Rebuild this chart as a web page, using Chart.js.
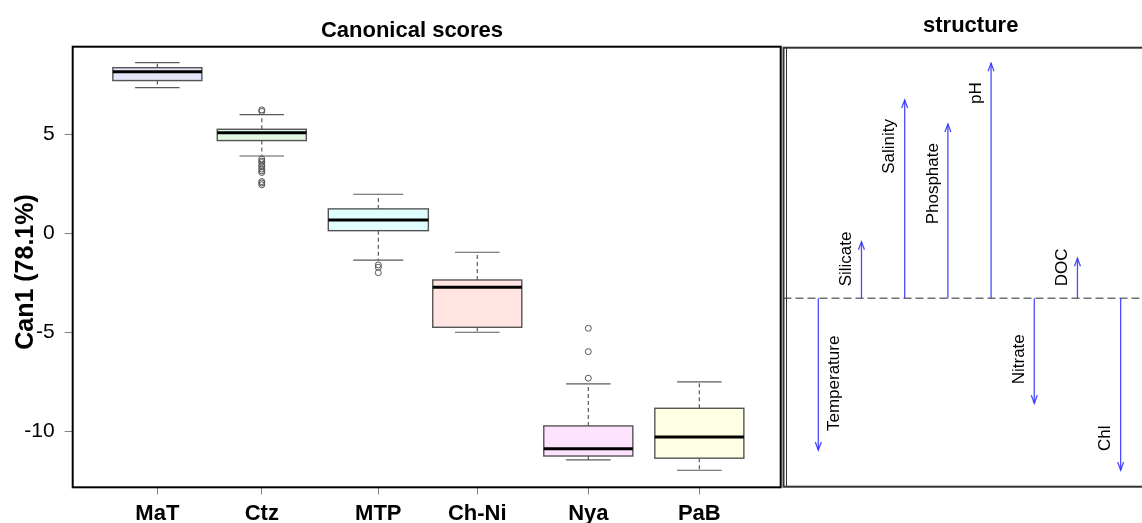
<!DOCTYPE html>
<html>
<head>
<meta charset="utf-8">
<title>Canonical scores and structure</title>
<script src="https://cdn.jsdelivr.net/npm/chart.js@4/dist/chart.umd.min.js"></script>
<style>
  html, body { margin: 0; padding: 0; background: #fff; overflow: hidden; width: 1142px; height: 523px; }
  #wrap { position: relative; width: 1142px; height: 523px; overflow: hidden; }
  #scores { position: absolute; left: 0; top: 0; }
  #structure { position: absolute; left: 782px; top: 0; }
</style>
</head>
<body>
<div id="wrap">
  <canvas id="scores" width="782" height="523"></canvas>
  <canvas id="structure" width="378" height="523"></canvas>
</div>
<script>
const FONT = "'Liberation Sans', Arial, Helvetica, sans-serif";

// Canonical scores (Can1) summarised per site
const sites = ['MaT', 'Ctz', 'MTP', 'Ch-Ni', 'Nya', 'PaB'];
const lowerWhisker  = [7.36, 3.91, -1.35, -4.99, -11.44, -11.96];
const lowerQuartile = [7.72, 4.69,  0.14, -4.74, -11.24, -11.35];
const medians       = [8.17, 5.09,  0.68, -2.72, -10.87, -10.28];
const upperQuartile = [8.37, 5.26,  1.24, -2.35,  -9.72,  -8.83];
const upperWhisker  = [8.63, 6.00,  1.98, -0.95,  -7.60,  -7.50];
const outlierValues = [
  [],
  [6.24, 6.16, 3.76, 3.66, 3.58, 3.44, 3.37, 3.25, 3.16, 3.08, 2.62, 2.55, 2.46],
  [-1.59, -1.71, -1.98],
  [],
  [-4.79, -5.97, -7.31],
  []
];
const scoreTicks = [-10, -5, 0, 5];

// Canonical structure coefficients of the environmental variables
const variables = ['Temperature', 'Silicate', 'Salinity', 'Phosphate', 'pH', 'Nitrate', 'DOC', 'Chl'];
const structureCoef = [-0.607, 0.226, 0.793, 0.697, 0.940, -0.420, 0.160, -0.687];

// Box placement along the site axis and box styling
const boxAt    = [1.02, 1.97, 3.03, 3.93, 4.94, 5.95];
const boxWidth = [0.81, 0.81, 0.91, 0.81, 0.81, 0.81];
const boxFill  = ['#e6e6fa', '#e3f7e3', '#e0ffff', '#ffe4e1', '#fde3fd', '#ffffe3'];

function seg(ctx, x1, y1, x2, y2) {
  ctx.beginPath(); ctx.moveTo(x1, y1); ctx.lineTo(x2, y2); ctx.stroke();
}

// Draws boxes, whiskers and medians through the chart scales
const boxPlotPlugin = {
  id: 'boxPlot',
  beforeDatasetsDraw(chart) {
    const { ctx, scales: { x, y } } = chart;
    ctx.save();
    sites.forEach((s, i) => {
      const cx = x.getPixelForValue(boxAt[i]);
      const half = x.getPixelForValue(boxAt[i] + boxWidth[i] / 2) - cx;
      const cap = half / 2;
      const yLo = y.getPixelForValue(lowerWhisker[i]);
      const yQ1 = y.getPixelForValue(lowerQuartile[i]);
      const yMd = y.getPixelForValue(medians[i]);
      const yQ3 = y.getPixelForValue(upperQuartile[i]);
      const yHi = y.getPixelForValue(upperWhisker[i]);

      ctx.strokeStyle = '#5a5a5a';
      ctx.lineWidth = 1.2;
      ctx.setLineDash([4, 3]);
      seg(ctx, cx, yQ3, cx, yHi);
      seg(ctx, cx, yQ1, cx, yLo);
      ctx.setLineDash([]);
      seg(ctx, cx - cap, yHi, cx + cap, yHi);
      seg(ctx, cx - cap, yLo, cx + cap, yLo);

      ctx.fillStyle = boxFill[i];
      ctx.fillRect(cx - half, yQ3, 2 * half, yQ1 - yQ3);
      ctx.strokeStyle = '#555555';
      ctx.lineWidth = 1.4;
      ctx.strokeRect(cx - half, yQ3, 2 * half, yQ1 - yQ3);

      ctx.strokeStyle = '#000';
      ctx.lineWidth = 3;
      seg(ctx, cx - half, yMd, cx + half, yMd);
    });
    ctx.restore();
  },
  afterDraw(chart) {
    const { ctx, chartArea: a } = chart;
    ctx.save();
    ctx.strokeStyle = '#000';
    ctx.lineWidth = 2;
    ctx.strokeRect(a.left, a.top, a.right - a.left, a.bottom - a.top);

    ctx.fillStyle = '#000';
    ctx.font = 'bold 22px ' + FONT;
    ctx.textAlign = 'center';
    ctx.textBaseline = 'alphabetic';
    ctx.fillText('Canonical scores', 412, 36.5);

    ctx.translate(33, 272);
    ctx.rotate(-Math.PI / 2);
    ctx.font = 'bold 25px ' + FONT;
    ctx.fillText('Can1 (78.1%)', 0, 0);
    ctx.restore();
  }
};

const outlierPoints = [];
outlierValues.forEach((vals, i) => vals.forEach(v => outlierPoints.push({ x: boxAt[i], y: v })));

new Chart(document.getElementById('scores'), {
  type: 'scatter',
  data: {
    datasets: [{
      label: 'outliers',
      data: outlierPoints,
      pointStyle: 'circle',
      pointRadius: 3,
      borderColor: '#555555',
      backgroundColor: 'rgba(255,255,255,0)',
      borderWidth: 1
    }]
  },
  options: {
    responsive: false,
    animation: false,
    events: [],
    layout: { autoPadding: false, padding: { top: 46.7, right: 1.3, left: 0, bottom: 0 } },
    plugins: { legend: { display: false }, tooltip: { enabled: false } },
    scales: {
      x: {
        type: 'linear', min: 0.25, max: 6.69,
        afterBuildTicks: ax => { ax.ticks = boxAt.map(v => ({ value: v })); },
        afterFit: s => { s.height = 35.7; s.paddingLeft = 0; s.paddingRight = 0; },
        ticks: {
          callback: (v, i) => sites[i],
          font: { family: FONT, size: 22, weight: 'bold' },
          color: '#000', padding: 6, maxRotation: 0, autoSkip: false
        },
        grid: { drawOnChartArea: false, drawTicks: true, tickLength: 7, color: '#808080' },
        border: { display: false }
      },
      y: {
        type: 'linear', min: -12.82, max: 9.43,
        afterBuildTicks: ax => { ax.ticks = scoreTicks.map(v => ({ value: v })); },
        afterFit: s => { s.width = 72.7; s.paddingTop = 0; s.paddingBottom = 0; },
        ticks: { font: { family: FONT, size: 21 }, color: '#000', padding: 10 },
        grid: { drawOnChartArea: false, drawTicks: true, tickLength: 8, color: '#808080' },
        border: { display: false }
      }
    }
  },
  plugins: [boxPlotPlugin]
});

// Structure panel: arrows from the zero line to each coefficient
const arrowColor = 'rgba(50,50,255,0.88)';

const structurePlugin = {
  id: 'structureArrows',
  beforeDatasetsDraw(chart) {
    const { ctx, chartArea: a, scales: { y } } = chart;
    const y0 = y.getPixelForValue(0);
    ctx.save();
    ctx.strokeStyle = '#707070';
    ctx.lineWidth = 1.5;
    ctx.setLineDash([8, 4]);
    seg(ctx, a.left, y0, a.right, y0);
    ctx.restore();
  },
  afterDatasetsDraw(chart) {
    const { ctx, scales: { x, y } } = chart;
    const y0 = y.getPixelForValue(0);
    ctx.save();
    ctx.font = '17px ' + FONT;
    ctx.fillStyle = '#000';
    variables.forEach((name, i) => {
      const px = x.getPixelForValue(i + 1);
      const tip = y.getPixelForValue(structureCoef[i]);
      const dir = structureCoef[i] >= 0 ? 1 : -1; // 1 = upward
      // arrow head
      ctx.strokeStyle = arrowColor;
      ctx.lineWidth = 1.3;
      ctx.beginPath();
      ctx.moveTo(px - 3, tip + dir * 8);
      ctx.lineTo(px, tip);
      ctx.lineTo(px + 3, tip + dir * 8);
      ctx.stroke();

      // rotated label beside the arrow
      const w = ctx.measureText(name).width;
      let top, bottom;
      if (dir > 0) {
        top = tip + 19;
        bottom = top + w;
        if (bottom > y0 - 12) { bottom = y0 - 12; top = bottom - w; }
      } else {
        bottom = tip - 19;
        top = bottom - w;
        if (top < y0 + 12) { top = y0 + 12; bottom = top + w; }
      }
      const lx = i === 0 ? px + 16 : px - 15;
      ctx.save();
      ctx.translate(lx, bottom);
      ctx.rotate(-Math.PI / 2);
      ctx.textAlign = 'left';
      ctx.textBaseline = 'middle';
      ctx.fillText(name, 0, 0);
      ctx.restore();
    });
    ctx.restore();
  },
  afterDraw(chart) {
    const { ctx, chartArea: a } = chart;
    ctx.save();
    ctx.strokeStyle = '#333';
    ctx.lineWidth = 2;
    ctx.strokeRect(a.left, a.top, a.right - a.left, a.bottom - a.top);
    ctx.lineWidth = 1;
    seg(ctx, a.left + 3, a.top, a.left + 3, a.bottom);
    ctx.fillStyle = '#000';
    ctx.font = 'bold 22px ' + FONT;
    ctx.textAlign = 'center';
    ctx.fillText('structure', 188.7, 32);
    ctx.restore();
  }
};

new Chart(document.getElementById('structure'), {
  type: 'scatter',
  data: {
    datasets: variables.map((name, i) => ({
      label: name,
      data: [{ x: i + 1, y: 0 }, { x: i + 1, y: structureCoef[i] }],
      showLine: true,
      borderColor: arrowColor,
      borderWidth: 1.3,
      pointRadius: 0,
      fill: false
    }))
  },
  options: {
    responsive: false,
    animation: false,
    events: [],
    layout: { autoPadding: false, padding: { top: 47.7, bottom: 36.3, left: 1.5, right: 2.5 } },
    plugins: { legend: { display: false }, tooltip: { enabled: false } },
    scales: {
      x: { type: 'linear', min: 0.1945, max: 8.853, display: false },
      y: { type: 'linear', min: -0.7536, max: 1.0024, display: false }
    }
  },
  plugins: [structurePlugin]
});
</script>
</body>
</html>
